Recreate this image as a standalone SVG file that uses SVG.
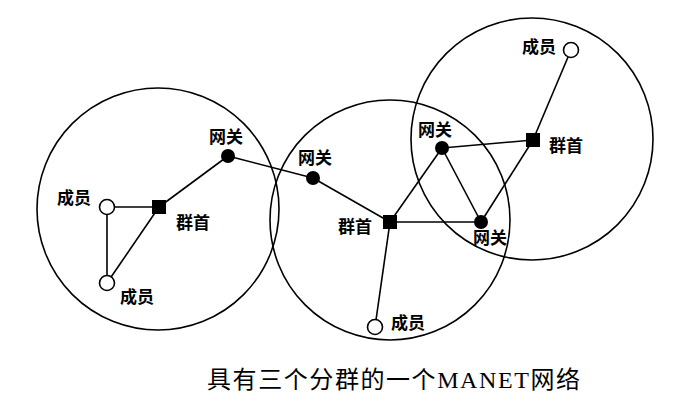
<svg xmlns="http://www.w3.org/2000/svg" width="690" height="407" viewBox="0 0 690 407">
<style>
.range{fill:none;stroke:#000;stroke-width:1.6}
.link{stroke:#000;stroke-width:1.6;fill:none}
.member{fill:#fff;stroke:#000;stroke-width:1.6}
.gw{fill:#000}
.head{fill:#000}
.lbl{font-family:"Noto Sans CJK SC",sans-serif;font-size:17px;font-weight:bold;fill:#000;text-anchor:middle}
.cap{font-family:"Liberation Serif","Noto Sans CJK SC",serif;font-size:24px;fill:#000}
</style>
<rect width="690" height="407" fill="#fff"/>
<g id="ranges">
<circle class="range" cx="158" cy="209" r="121"/>
<circle class="range" cx="390" cy="220" r="120"/>
<circle class="range" cx="532" cy="139" r="121"/>
</g>
<g id="connectors">
<line class="link" x1="107" y1="207" x2="159" y2="207"/>
<line class="link" x1="107" y1="207" x2="107" y2="283"/>
<line class="link" x1="107" y1="283" x2="159" y2="207"/>
<line class="link" x1="159" y1="207" x2="228" y2="156"/>
<line class="link" x1="228" y1="156" x2="313" y2="178"/>
<line class="link" x1="313" y1="178" x2="390" y2="222"/>
<line class="link" x1="390" y1="222" x2="442" y2="148"/>
<line class="link" x1="390" y1="222" x2="481" y2="222"/>
<line class="link" x1="390" y1="222" x2="375" y2="327"/>
<line class="link" x1="442" y1="148" x2="481" y2="222"/>
<line class="link" x1="442" y1="148" x2="533" y2="140"/>
<line class="link" x1="481" y1="222" x2="533" y2="140"/>
<line class="link" x1="533" y1="140" x2="571" y2="50"/>
</g>
<g id="n-member-l1"><circle class="member" cx="107" cy="207" r="7.5"/><text class="lbl" x="74" y="204">成员</text></g>
<g id="n-member-l2"><circle class="member" cx="107" cy="283" r="7.5"/><text class="lbl" x="137" y="303">成员</text></g>
<g id="n-head-l"><rect class="head" x="152" y="200" width="14" height="14"/><text class="lbl" x="193" y="229">群首</text></g>
<g id="n-gw-l"><circle class="gw" cx="228" cy="156" r="7"/><text class="lbl" x="226" y="143">网关</text></g>
<g id="n-gw-m"><circle class="gw" cx="313" cy="178" r="7"/><text class="lbl" x="315" y="164">网关</text></g>
<g id="n-head-m"><rect class="head" x="383" y="215" width="14" height="14"/><text class="lbl" x="355" y="233">群首</text></g>
<g id="n-member-m"><circle class="member" cx="375" cy="327" r="7.5"/><text class="lbl" x="408" y="329">成员</text></g>
<g id="n-gw-u"><circle class="gw" cx="442" cy="148" r="7"/><text class="lbl" x="435" y="136">网关</text></g>
<g id="n-gw-d"><circle class="gw" cx="481" cy="222" r="7"/><text class="lbl" x="490" y="244">网关</text></g>
<g id="n-head-r"><rect class="head" x="526" y="133" width="14" height="14"/><text class="lbl" x="566" y="152">群首</text></g>
<g id="n-member-r"><circle class="member" cx="571" cy="50" r="7.5"/><text class="lbl" x="539" y="53">成员</text></g>
<text class="cap" x="207" y="388" textLength="373" lengthAdjust="spacing">具有三个分群的一个MANET网络</text>
</svg>
